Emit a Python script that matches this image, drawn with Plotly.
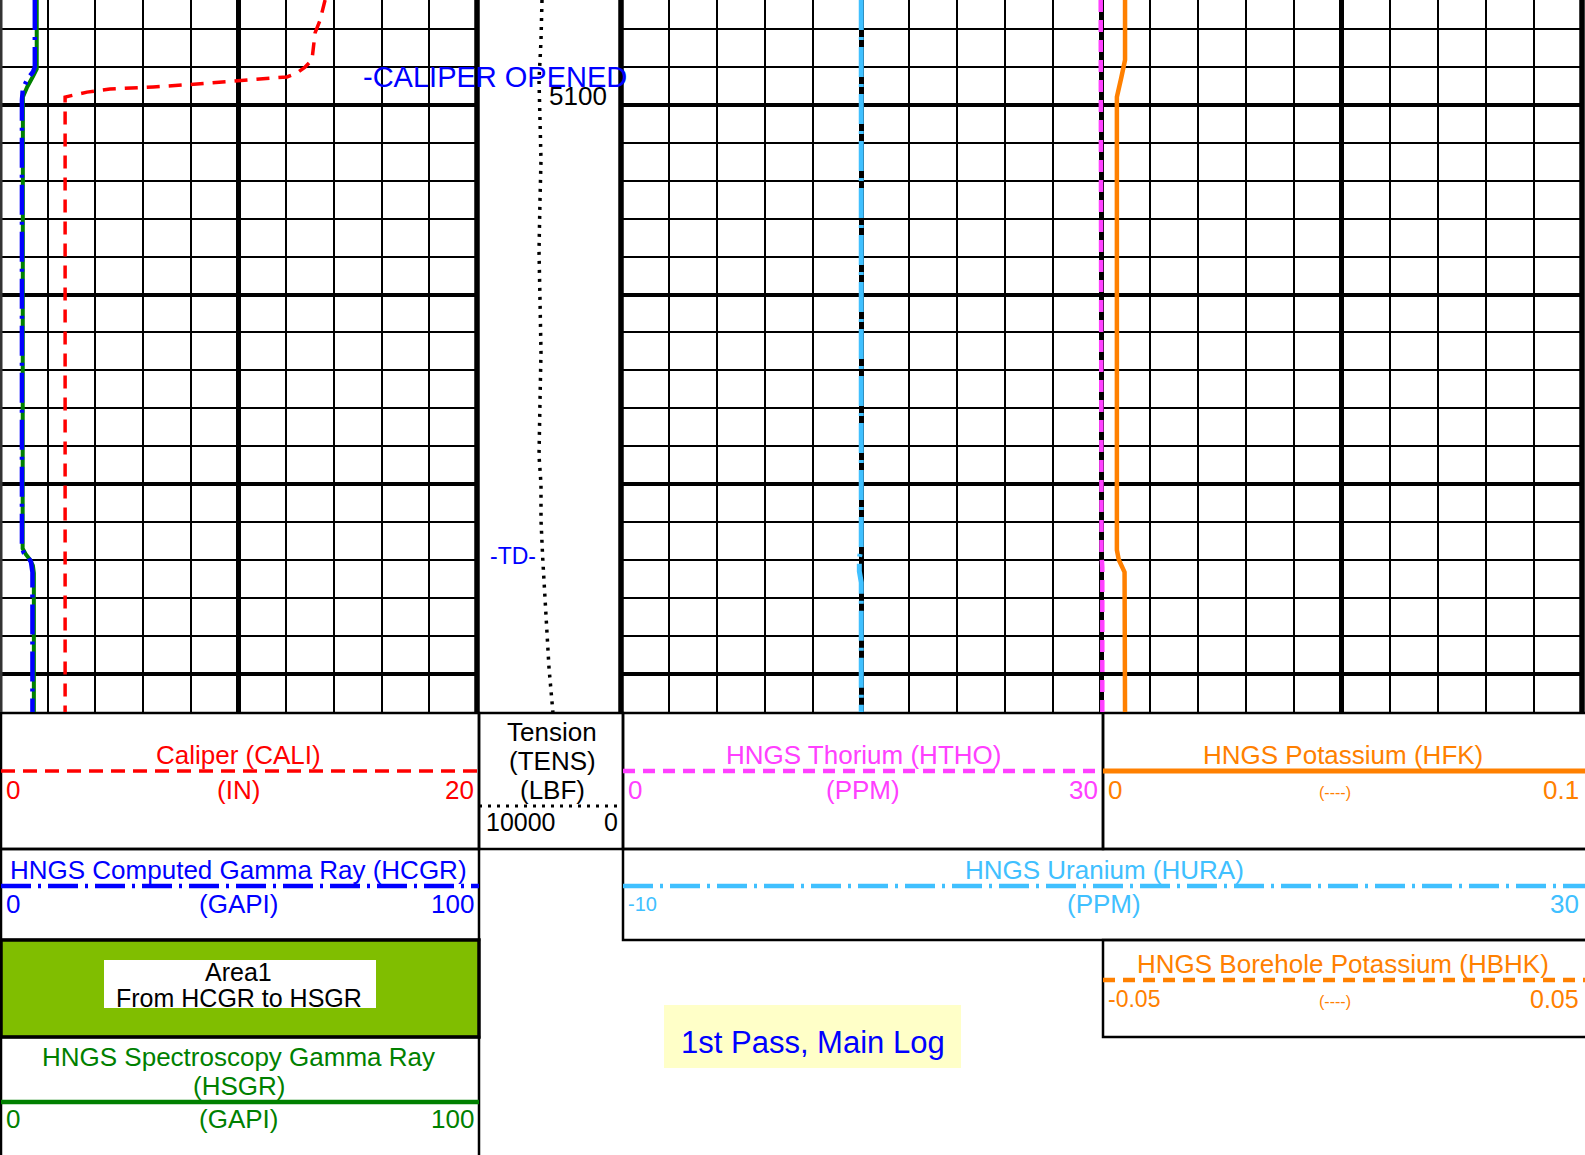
import plotly.graph_objects as go

W, H = 1585, 1155
FONT = "Liberation Sans, Arial, sans-serif"

# ---------------- data (depth in ft) ----------------
cali_depth = [5094.46, 5095.52, 5096.20, 5097.10, 5097.63, 5098.00, 5098.31, 5098.52,
              5098.73, 5098.89, 5099.05, 5099.16, 5099.32, 5099.58, 5132.10]
cali_in = [13.63, 13.42, 13.21, 13.12, 13.08, 12.79, 12.45, 12.03,
           10.06, 8.26, 6.42, 4.61, 3.65, 2.73, 2.73]

hcgr_depth = [5094.46, 5098.00, 5098.26, 5098.58, 5099.10, 5099.74,
              5123.38, 5123.64, 5123.85, 5124.12, 5124.65, 5132.10]
hcgr_gapi = [7.3, 7.3, 6.9, 5.9, 4.8, 4.6, 4.6, 5.0, 5.9, 6.5, 6.8, 6.8]

hsgr_depth = [5094.46, 5098.10, 5098.50, 5099.05, 5099.58,
              5123.40, 5123.70, 5124.00, 5124.30, 5124.70, 5132.10]
hsgr_gapi = [7.7, 7.7, 6.9, 5.7, 4.8, 4.75, 5.4, 6.3, 6.9, 7.1, 7.1]

tens_depth = [5094.46, 5096.6, 5098.7, 5100.8, 5102.9, 5105.0, 5107.7, 5110.3, 5113.0,
              5115.6, 5118.5, 5120.0, 5121.9, 5123.9, 5126.1, 5128.1, 5129.7, 5132.1]
tens_lbf = [5486, 5556, 5694, 5625, 5556, 5625, 5694, 5625, 5556,
            5625, 5694, 5556, 5556, 5438, 5278, 5139, 5000, 4722]

hura_depth = [5094.46, 5123.4, 5123.9, 5124.6, 5125.2, 5132.1]
hura_ppm = [0.0, 0.0, -0.08, -0.08, 0.0, 0.0]

htho_depth = [5094.46, 5110.0, 5123.6, 5124.4, 5132.1]
htho_ppm = [29.95, 29.95, 30.0, 30.05, 30.05]

hfk_depth = [5094.46, 5097.63, 5098.58, 5099.58, 5123.48, 5124.00, 5124.65, 5132.10]
hfk_val = [0.0049, 0.0049, 0.0041, 0.0032, 0.0032, 0.0036, 0.0048, 0.0049]

depth_top, depth_bottom = 5094.46, 5132.03
depth_label = 5100
caliper_opened_depth = 5098.5
td_depth = 5123.8

# track scales (as printed in the header)
cali_scale = [0, 20]
gr_scale = [0, 100]
tens_scale = [10000, 0]
hura_scale = [-10, 30]
htho_scale = [0, 30]      # spans the left half of the right-hand tracks
hfk_scale = [0, 0.1]      # spans the right half of the right-hand tracks
hbhk_scale = [-0.05, 0.05]

# colours
RED, BLUE, GREEN = "#FF0000", "#0000FF", "#008000"
MAG, ORANGE, LBLUE = "#FF40FF", "#FF8000", "#40C0FF"

# ---------------- layout helpers ----------------
LOG_BOTTOM = 712
def px(x):
    return x / W
def py(y):
    return 1 - y / H

ydom = [1 - LOG_BOTTOM / H, 1]

fig = go.Figure()

# track 1
fig.add_trace(go.Scatter(x=hsgr_gapi, y=hsgr_depth, xaxis="x2", yaxis="y", mode="lines",
                         line=dict(color=GREEN, width=4)))
fig.add_trace(go.Scatter(x=hcgr_gapi, y=hcgr_depth, xaxis="x2", yaxis="y", mode="lines",
                         line=dict(color=BLUE, width=4.5, dash="30px,7px,3px,7px")))
fig.add_trace(go.Scatter(x=cali_in, y=cali_depth, xaxis="x", yaxis="y", mode="lines",
                         line=dict(color=RED, width=3.5, dash="13px,9px")))
# right tracks
fig.add_trace(go.Scatter(x=hura_ppm, y=hura_depth, xaxis="x3", yaxis="y", mode="lines",
                         line=dict(color=LBLUE, width=5, dash="30px,7px,3px,7px")))
fig.add_trace(go.Scatter(x=htho_ppm, y=htho_depth, xaxis="x4", yaxis="y", mode="lines",
                         line=dict(color=MAG, width=4.5, dash="12px,8px")))
fig.add_trace(go.Scatter(x=hfk_val, y=hfk_depth, xaxis="x5", yaxis="y", mode="lines",
                         line=dict(color=ORANGE, width=4.5)))
# depth track
fig.add_trace(go.Scatter(x=tens_lbf, y=tens_depth, xaxis="x6", yaxis="y2", mode="lines",
                         line=dict(color="black", width=3.5, dash="3px,6px")))

noax = dict(showticklabels=False, ticks="", zeroline=False, showline=False, fixedrange=True)
grid_x = dict(tickmode="linear", showgrid=True, gridcolor="black", gridwidth=4.5,
              minor=dict(tickmode="linear", dtick=2, showgrid=True, gridcolor="black", gridwidth=2))

htho_full = [htho_scale[0], htho_scale[0] + 2 * (htho_scale[1] - htho_scale[0])]
hfk_full = [hfk_scale[0] - (hfk_scale[1] - hfk_scale[0]), hfk_scale[1]]

layout = dict(
    width=W, height=H, autosize=False,
    margin=dict(l=0, r=0, t=0, b=0, pad=0),
    paper_bgcolor="white", plot_bgcolor="rgba(0,0,0,0)",
    showlegend=False,
    xaxis=dict(domain=[px(0), px(477)], range=cali_scale, anchor="y", tick0=0, dtick=10,
               **grid_x, **noax),
    xaxis2=dict(overlaying="x", range=gr_scale, anchor="y", showgrid=False, **noax),
    xaxis3=dict(domain=[px(621), px(1582)], range=hura_scale, anchor="y", tick0=-10, dtick=10,
                **grid_x, **noax),
    xaxis4=dict(overlaying="x3", range=htho_full, anchor="y", showgrid=False, **noax),
    xaxis5=dict(overlaying="x3", range=hfk_full, anchor="y", showgrid=False, **noax),
    xaxis6=dict(domain=[px(477), px(621)], range=tens_scale, anchor="y2", showgrid=False, **noax),
    yaxis=dict(domain=ydom, range=[depth_bottom, depth_top], anchor="x", tickmode="linear",
               tick0=5100, dtick=10, showgrid=True, gridcolor="black", gridwidth=4,
               minor=dict(tickmode="linear", dtick=2, showgrid=True, gridcolor="black", gridwidth=1.5),
               **noax),
    yaxis2=dict(domain=ydom, range=[depth_bottom, depth_top], anchor="x6", showgrid=False, **noax),
)
fig.update_layout(**layout)

shapes = []
def vline(x, y0, y1, w=2, color="black"):
    shapes.append(dict(type="line", xref="paper", yref="paper", x0=px(x), x1=px(x),
                       y0=py(y0), y1=py(y1), line=dict(color=color, width=w)))
def hline(x0, x1, y, color, w, dash="solid"):
    shapes.append(dict(type="line", xref="paper", yref="paper", x0=px(x0), x1=px(x1),
                       y0=py(y), y1=py(y), line=dict(color=color, width=w, dash=dash)))
def rect(x0, y0, x1, y1, fill="rgba(0,0,0,0)", lw=2.5, lc="black"):
    shapes.append(dict(type="rect", xref="paper", yref="paper", x0=px(x0), x1=px(x1),
                       y0=py(y1), y1=py(y0), fillcolor=fill,
                       line=dict(color=lc, width=lw), layer="below"))

# track borders in the log area
vline(1, 0, LOG_BOTTOM, 3, "#333333")
vline(477, 0, LOG_BOTTOM, 5.5)
vline(621, 0, LOG_BOTTOM, 5.5)
vline(1582, 0, LOG_BOTTOM, 5.5)

# header boxes
rect(1, 713, 479, 849)
rect(479, 713, 623, 849)
rect(623, 713, 1103, 849)
rect(1103, 713, 1588, 849)
rect(1, 849, 479, 940)
rect(623, 849, 1588, 940)
rect(1, 940, 479, 1037, fill="#80BE00", lw=3.5)
rect(1103, 940, 1588, 1037)
rect(1, 1037, 479, 1165)
vline(479, 849, 1155, 2)
rect(104, 960, 376, 1008, fill="white", lw=0, lc="white")
rect(664, 1005, 961, 1068, fill="#FFFFC8", lw=0, lc="#FFFFC8")

# legend lines
hline(1, 479, 771, RED, 3.5, "14px,8px")
hline(479, 623, 806, "black", 3, "3px,6px")
hline(623, 1103, 771, MAG, 4.5, "12px,8px")
hline(1103, 1588, 771, ORANGE, 5)
hline(1, 479, 886, BLUE, 4.5, "30px,7px,3px,7px")
hline(623, 1588, 886, LBLUE, 4.5, "30px,7px,3px,7px")
hline(1103, 1588, 980, ORANGE, 4.5, "12px,8px")
hline(1, 479, 1102, GREEN, 4.5)

fig.update_layout(shapes=shapes)

ann = []
def txt(x, y, s, color, size=26, xanchor="center"):
    ann.append(dict(x=px(x), y=py(y), xref="paper", yref="paper", text=s, showarrow=False,
                    font=dict(color=color, size=size, family=FONT), xanchor=xanchor,
                    yanchor="middle"))

# row 1
txt(239, 755, "Caliper (CALI)", RED)
txt(4, 790, "0", RED, xanchor="left")
txt(239, 790, "(IN)", RED)
txt(476, 790, "20", RED, xanchor="right")
txt(552, 732, "Tension", "black")
txt(552, 761, "(TENS)", "black")
txt(552, 790, "(LBF)", "black")
txt(484, 822, "10000", "black", 25, "left")
txt(620, 822, "0", "black", 25, "right")
txt(863, 755, "HNGS Thorium (HTHO)", MAG)
txt(626, 790, "0", MAG, xanchor="left")
txt(863, 790, "(PPM)", MAG)
txt(1100, 790, "30", MAG, xanchor="right")
txt(1343, 755, "HNGS Potassium (HFK)", ORANGE)
txt(1106, 790, "0", ORANGE, xanchor="left")
txt(1335, 792, "(----)", ORANGE, 16)
txt(1581, 790, "0.1", ORANGE, xanchor="right")
# row 2
txt(239, 870, "HNGS Computed Gamma Ray (HCGR)", BLUE)
txt(4, 904, "0", BLUE, xanchor="left")
txt(239, 904, "(GAPI)", BLUE)
txt(476, 904, "100", BLUE, xanchor="right")
txt(1104, 870, "HNGS Uranium (HURA)", LBLUE)
txt(626, 904, "-10", LBLUE, 20, "left")
txt(1104, 904, "(PPM)", LBLUE)
txt(1581, 904, "30", LBLUE, xanchor="right")
# row 3
txt(239, 972, "Area1", "black", 25)
txt(239, 998, "From HCGR to HSGR", "black", 25)
txt(1343, 964, "HNGS Borehole Potassium (HBHK)", ORANGE)
txt(1106, 999, "-0.05", ORANGE, 23, "left")
txt(1335, 1001, "(----)", ORANGE, 16)
txt(1581, 999, "0.05", ORANGE, 25, "right")
txt(813, 1042, "1st Pass, Main Log", BLUE, 31)
# row 4
txt(239, 1057, "HNGS Spectroscopy Gamma Ray", GREEN)
txt(239, 1086, "(HSGR)", GREEN)
txt(4, 1119, "0", GREEN, xanchor="left")
txt(239, 1119, "(GAPI)", GREEN)
txt(476, 1119, "100", GREEN, xanchor="right")

# log annotations (depth-referenced)
ann.append(dict(x=px(495), xref="paper", y=caliper_opened_depth, yref="y", text="-CALIPER OPENED",
                showarrow=False, font=dict(color=BLUE, size=29, family=FONT),
                xanchor="center", yanchor="middle"))
ann.append(dict(x=px(513), xref="paper", y=td_depth, yref="y", text="-TD-",
                showarrow=False, font=dict(color=BLUE, size=23, family=FONT),
                xanchor="center", yanchor="middle"))
ann.append(dict(x=px(609), xref="paper", y=depth_label, yref="y", text=str(depth_label),
                showarrow=False, font=dict(color="black", size=26, family=FONT),
                xanchor="right", yanchor="middle", yshift=9))

fig.update_layout(annotations=ann)

fig.write_html("out.html", config={"displayModeBar": False},
               post_script="document.body.style.margin='0';document.body.style.overflow='hidden';")
